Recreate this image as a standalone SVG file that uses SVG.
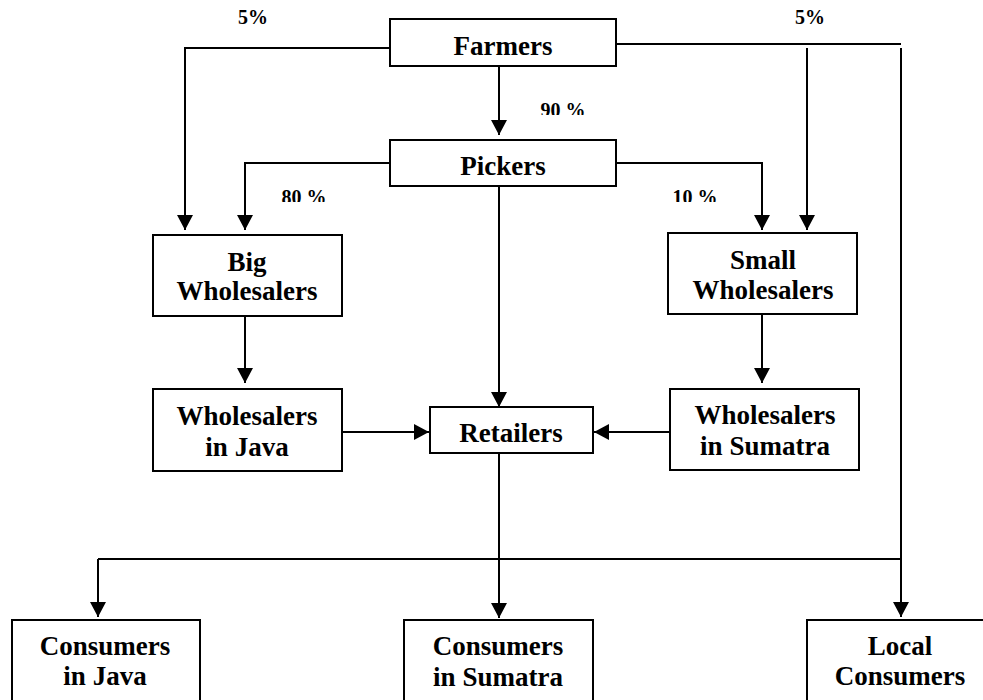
<svg xmlns="http://www.w3.org/2000/svg" width="983" height="700" viewBox="0 0 983 700">
<style>
  .box { fill: #ffffff; stroke: #000000; stroke-width: 2; }
  .lbl { font-family: "Liberation Serif", "Times New Roman", serif; font-weight: bold; font-size: 27px; fill: #000000; text-anchor: middle; }
  .pct { font-family: "Liberation Serif", "Times New Roman", serif; font-weight: bold; font-size: 20px; fill: #000000; text-anchor: middle; }
  .ln { fill: none; stroke: #000000; stroke-width: 2; }
  .arr { marker-end: url(#ah); }
</style>
<defs>
  <marker id="ah" markerUnits="userSpaceOnUse" markerWidth="16" markerHeight="16" refX="15" refY="8" orient="auto">
    <path d="M0,0 L15,8 L0,16 z" fill="#000000"/>
  </marker>
  <clipPath id="clip90"><rect x="520" y="90" width="90" height="25"/></clipPath>
  <clipPath id="clip80"><rect x="260" y="180" width="90" height="22"/></clipPath>
  <clipPath id="clip10"><rect x="650" y="180" width="90" height="22"/></clipPath>
</defs>
<rect width="983" height="700" fill="#ffffff"/>

<g id="connectors">
  <path class="ln arr" d="M390,48 H185 V230"/>
  <path class="ln" d="M616,44 H901"/>
  <path class="ln arr" d="M901,48 V617"/>
  <path class="ln arr" d="M807,48 V230"/>
  <path class="ln arr" d="M499,67 V135"/>
  <path class="ln arr" d="M390,163 H245 V230"/>
  <path class="ln arr" d="M616,163 H762 V230"/>
  <path class="ln arr" d="M499,186 V407"/>
  <path class="ln arr" d="M245,316 V383"/>
  <path class="ln arr" d="M762,314 V383"/>
  <path class="ln arr" d="M342,432 H429"/>
  <path class="ln arr" d="M670,432 H594"/>
  <path class="ln arr" d="M499,453 V618"/>
  <path class="ln" d="M98,559 H901"/>
  <path class="ln arr" d="M98,559 V617"/>
</g>

<g id="labels">
  <text class="pct" x="253" y="24">5%</text>
  <text class="pct" x="810" y="24">5%</text>
  <text class="pct" x="563" y="117" clip-path="url(#clip90)">90 %</text>
  <text class="pct" x="304" y="204" clip-path="url(#clip80)">80 %</text>
  <text class="pct" x="695" y="204" clip-path="url(#clip10)">10 %</text>
</g>

<g id="farmers">
  <rect class="box" x="390" y="19" width="226" height="47"/>
  <text class="lbl" x="503" y="55">Farmers</text>
</g>
<g id="pickers">
  <rect class="box" x="390" y="140" width="226" height="46"/>
  <text class="lbl" x="503" y="175">Pickers</text>
</g>
<g id="big-wholesalers">
  <rect class="box" x="153" y="235" width="189" height="81"/>
  <text class="lbl" x="247" y="271">Big</text>
  <text class="lbl" x="247" y="300">Wholesalers</text>
</g>
<g id="small-wholesalers">
  <rect class="box" x="668" y="233" width="189" height="81"/>
  <text class="lbl" x="763" y="269">Small</text>
  <text class="lbl" x="763" y="299">Wholesalers</text>
</g>
<g id="wholesalers-java">
  <rect class="box" x="153" y="389" width="189" height="82"/>
  <text class="lbl" x="247" y="425">Wholesalers</text>
  <text class="lbl" x="247" y="456">in Java</text>
</g>
<g id="retailers">
  <rect class="box" x="430" y="407" width="163" height="46"/>
  <text class="lbl" x="511" y="442">Retailers</text>
</g>
<g id="wholesalers-sumatra">
  <rect class="box" x="670" y="389" width="189" height="81"/>
  <text class="lbl" x="765" y="424">Wholesalers</text>
  <text class="lbl" x="765" y="455">in Sumatra</text>
</g>
<g id="consumers-java">
  <rect class="box" x="12" y="620" width="188" height="100"/>
  <text class="lbl" x="105" y="655">Consumers</text>
  <text class="lbl" x="105" y="685">in Java</text>
</g>
<g id="consumers-sumatra">
  <rect class="box" x="404" y="620" width="189" height="100"/>
  <text class="lbl" x="498" y="655">Consumers</text>
  <text class="lbl" x="498" y="686">in Sumatra</text>
</g>
<g id="local-consumers">
  <rect class="box" x="807" y="620" width="190" height="100"/>
  <text class="lbl" x="900" y="655">Local</text>
  <text class="lbl" x="900" y="685">Consumers</text>
</g>
</svg>
